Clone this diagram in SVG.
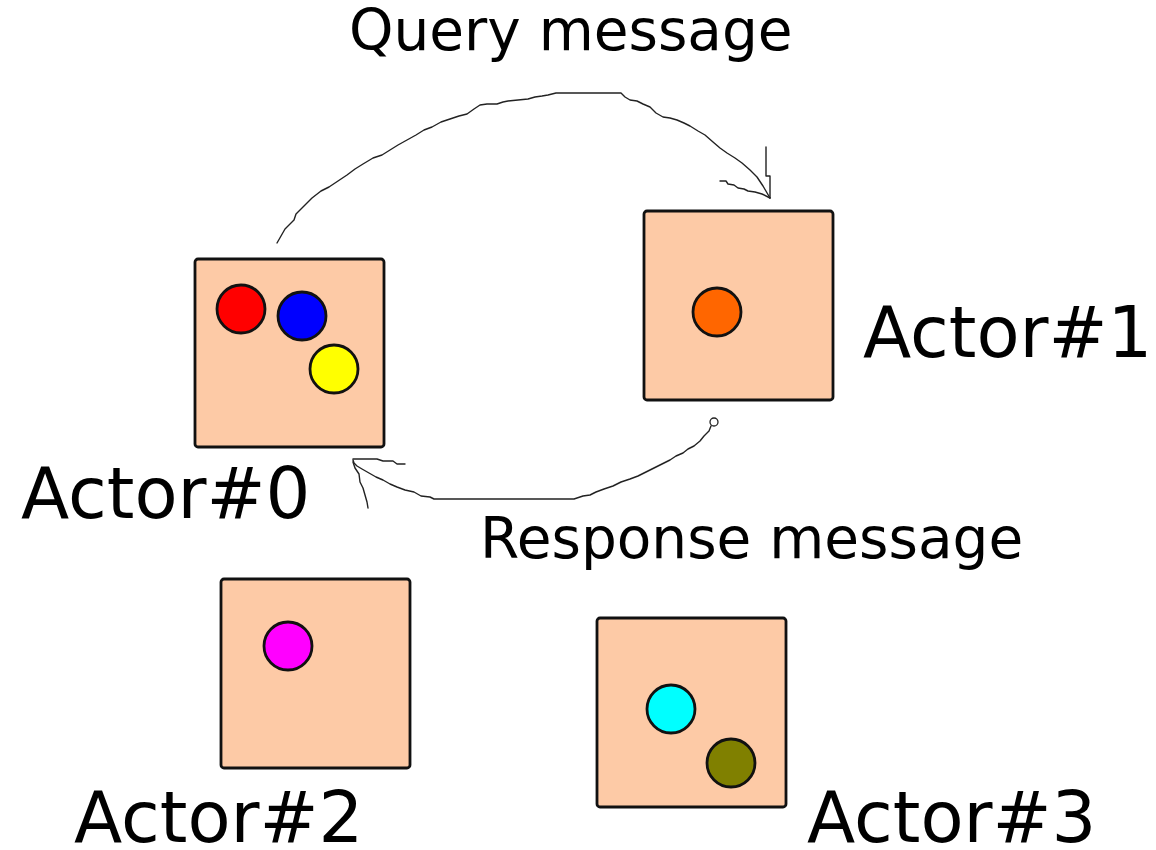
<svg xmlns="http://www.w3.org/2000/svg" width="1156" height="850" viewBox="0 0 1156 850">
  <style>
    .box { fill: #fdcaa6; stroke: #111; stroke-width: 2.8; }
    .dot { stroke: #111; stroke-width: 2.8; }
    .label { font-family: "DejaVu Sans", "Liberation Sans", sans-serif; fill: #000; }
    .actor { font-size: 70.5px; }
    .msg { font-size: 56.5px; }
    .wire { fill: none; stroke: #222; stroke-width: 1.4; stroke-linejoin: round; stroke-linecap: round; }
  </style>

  <rect width="1156" height="850" fill="#fff"/>

  <!-- message connectors -->
  <g id="connectors">
    <!-- query: Actor#0 to Actor#1 -->
    <path class="wire" d="M277,243 L281,236 L285,229 L294,220 L296,214 L304,206 L312,198 L321,191 L329,187 L338,181 L347,175 L355,169 L363,164 L373,158 L382,155 L390,150 L398,145 L407,140 L416,135 L424,130 L432,127 L441,122 L450,119 L459,116 L467,114 L474,109 L480,105 L487,104 L497,104 L503,102 L508,101 L518,100 L528,99 L535,97 L542,96 L548,95 L556,93 L575,93 L600,93 L621,93 L625,97 L630,100 L637,101 L643,104 L650,107 L656,113 L663,117 L670,118 L677,120 L684,123 L690,126 L698,131 L705,135 L713,142 L720,148 L727,153 L735,158 L742,163 L750,170 L757,177 L763,186 L770,198"/>
    <path class="wire" d="M720,181 L726,181 L728,184 L734,185 L738,188 L744,189 L748,191 L755,192 L762,194 L770,198"/>
    <path class="wire" d="M766,147 L766,176 L770,176 L770,198"/>

    <!-- response: Actor#1 back to Actor#0 -->
    <circle cx="714" cy="422" r="4" fill="#fff" stroke="#222" stroke-width="1.3"/>
    <path class="wire" d="M711,426 L709,431 L704,436 L700,441 L694,446 L688,449 L683,453 L676,456 L670,460 L662,464 L654,468 L646,472 L638,476 L630,479 L621,482 L613,486 L604,489 L596,492 L590,495 L583,496 L574,499 L560,499 L520,499 L480,499 L434,499 L430,497 L421,496 L414,492 L405,490 L397,487 L390,484 L383,480 L376,477 L369,473 L362,469 L357,466 L354,463 L353,460"/>
    <path class="wire" d="M353,459 L377,459 L383,461 L393,461 L397,464 L405,464"/>
    <path class="wire" d="M353,462 L355,468 L359,474 L360,482 L363,488 L365,495 L367,502 L368,508"/>
  </g>

  <!-- Actor#0 -->
  <g id="actor0">
    <rect class="box" x="195" y="259" width="189" height="188" rx="3"/>
    <circle class="dot" cx="241" cy="309" r="24" fill="#ff0000"/>
    <circle class="dot" cx="302" cy="316" r="24" fill="#0000ff"/>
    <circle class="dot" cx="334" cy="369" r="24" fill="#ffff00"/>
    <text class="label actor" x="21" y="518">Actor#0</text>
  </g>

  <!-- Actor#1 -->
  <g id="actor1">
    <rect class="box" x="644" y="211" width="189" height="189" rx="3"/>
    <circle class="dot" cx="717" cy="312" r="24" fill="#ff6600"/>
    <text class="label actor" x="863" y="357">Actor#1</text>
  </g>

  <!-- Actor#2 -->
  <g id="actor2">
    <rect class="box" x="221" y="579" width="189" height="189" rx="3"/>
    <circle class="dot" cx="288" cy="646" r="24" fill="#ff00ff"/>
    <text class="label actor" x="74" y="842">Actor#2</text>
  </g>

  <!-- Actor#3 -->
  <g id="actor3">
    <rect class="box" x="597" y="618" width="189" height="189" rx="3"/>
    <circle class="dot" cx="671" cy="709" r="24" fill="#00ffff"/>
    <circle class="dot" cx="731" cy="763" r="24" fill="#808000"/>
    <text class="label actor" x="807" y="842">Actor#3</text>
  </g>

  <!-- message labels -->
  <g id="labels">
    <text class="label msg" x="349" y="50">Query message</text>
    <text class="label msg" x="480" y="558">Response message</text>
  </g>
</svg>
